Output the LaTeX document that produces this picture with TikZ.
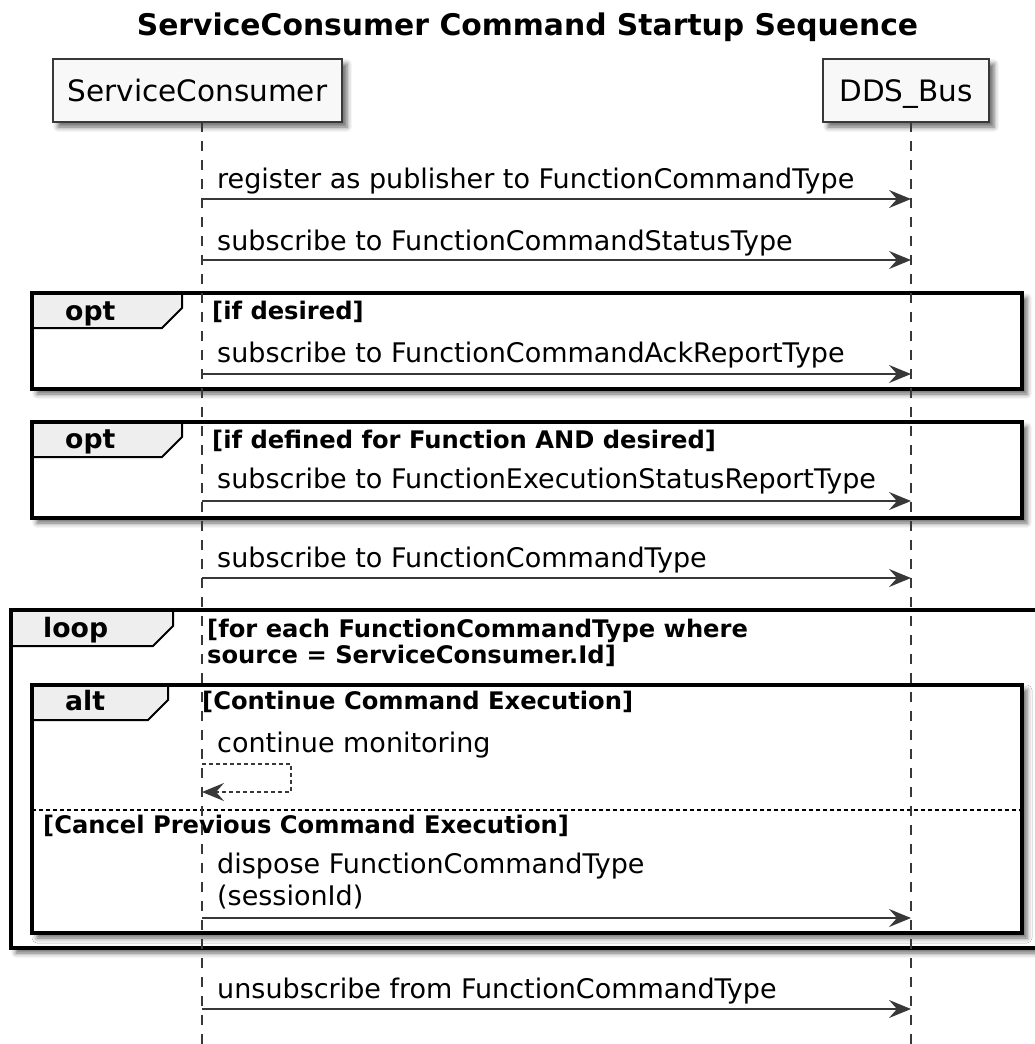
\documentclass[tikz,border=0pt]{standalone}
\usepackage{fontspec}
\setmainfont{DejaVu Sans}
\usetikzlibrary{arrows.meta,shadows.blur}

\definecolor{ink}{HTML}{383838}
\definecolor{partfill}{HTML}{F8F8F8}
\definecolor{tabfill}{HTML}{EEEEEE}

\newcommand\msgfont{\fontsize{27}{32}\selectfont}
\newcommand\partfont{\fontsize{29.5}{35}\selectfont}
\newcommand\titlefont{\bfseries\fontsize{29.8}{35}\selectfont}
\newcommand\tabfont{\bfseries\fontsize{26.7}{32}\selectfont}
\newcommand\guardfont{\bfseries\fontsize{24.2}{29}\selectfont}

% combined fragment: left, top, right, bottom, tab right, tab bottom
\newcommand\umlframe[6]{%
  \path[framebox] (#1,#2) rectangle (#3,#4);
  \filldraw[tabshape] (#1,#2) -- (#5,#2) -- (#5,#6-20) -- (#5-20,#6) -- (#1,#6) -- cycle;
  \draw[frameline] (#1,#2) rectangle (#3,#4);
}

\begin{document}
\begin{tikzpicture}[x=1pt,y=-1pt,
  softshadow/.style={blur shadow={shadow xshift=5pt, shadow yshift=-5pt,
      shadow blur radius=5pt, shadow opacity=60}},
  participant/.style={draw=ink, line width=2.5pt, fill=partfill, font=\partfont,
      inner sep=0pt, text height=21pt, text depth=0pt, minimum height=63pt, softshadow},
  lifeline/.style={draw=ink, line width=1.5pt, dash pattern=on 10pt off 9pt},
  msg/.style={draw=ink, line width=1.8pt,
      -{Stealth[length=22pt, width=18pt, inset=8pt]}},
  selfmsg/.style={msg, dash pattern=on 4pt off 3pt},
  msglabel/.style={anchor=base west, inner sep=0pt, font=\msgfont, text=black},
  framebox/.style={fill=white, softshadow},
  frameline/.style={draw=black, line width=3.2pt},
  tabshape/.style={draw=black, line width=2pt, fill=tabfill},
  tablabel/.style={anchor=base west, inner sep=0pt, font=\tabfont},
  guard/.style={anchor=base west, inner sep=0pt, font=\guardfont},
  separator/.style={draw=black, line width=1.5pt, dash pattern=on 4pt off 3pt}]

\useasboundingbox (0,0) rectangle (1035,1044);

% title and participants
\node[anchor=base, inner sep=0pt, font=\titlefont] (title) at (527.5,35)
  {ServiceConsumer Command Startup Sequence};
\node[participant, minimum width=289pt] (sc) at (197.5,90.5) {ServiceConsumer};
\node[participant, minimum width=166pt] (bus) at (906,90.5) {DDS\_Bus};

\coordinate (scl) at (202,122);
\coordinate (busl) at (911,122);
\coordinate (scend) at (202,1044);
\coordinate (busend) at (911,1044);

% combined fragments
\umlframe{32}{293}{1022}{389}{182}{328}
\umlframe{32}{422}{1022}{518}{182}{457}
\umlframe{11}{610}{1062}{948}{173}{646}
\umlframe{32}{685}{1022}{933}{168}{720}

\node[tablabel] (opt1) at (65,320) {opt};
\node[guard] (opt1g) at (212,319) {[if desired]};
\node[tablabel] (opt2) at (65,448) {opt};
\node[guard] (opt2g) at (212,448) {[if defined for Function AND desired]};
\node[tablabel] (loop) at (43,637) {loop};
\node[guard] (loopg1) at (207,637) {[for each FunctionCommandType where};
\node[guard] (loopg2) at (207,663) {source = ServiceConsumer.Id]};
\node[tablabel] (alt) at (65,710) {alt};
\node[guard] (altg1) at (202,709) {[Continue Command Execution]};
\draw[separator] (32,810) -- (1022,810);
\node[guard] (altg2) at (43,833) {[Cancel Previous Command Execution]};

% lifelines
\draw[lifeline] (scl) -- (scend);
\draw[lifeline] (busl) -- (busend);

% messages
\node[msglabel] (m1) at (217,188) {register as publisher to FunctionCommandType};
\draw[msg] (scl |- 0,199) -- (busl |- 0,199);

\node[msglabel] (m2) at (217,250) {subscribe to FunctionCommandStatusType};
\draw[msg] (scl |- 0,260) -- (busl |- 0,260);

\node[msglabel] (m3) at (217,362) {subscribe to FunctionCommandAckReportType};
\draw[msg] (scl |- 0,374) -- (busl |- 0,374);

\node[msglabel] (m4) at (217,488) {subscribe to FunctionExecutionStatusReportType};
\draw[msg] (scl |- 0,501) -- (busl |- 0,501);

\node[msglabel] (m5) at (217,567) {subscribe to FunctionCommandType};
\draw[msg] (scl |- 0,578) -- (busl |- 0,578);

\node[msglabel] (m6) at (217,752) {continue monitoring};
\draw[selfmsg] (scl |- 0,764) -- ++(89,0) -- ++(0,28) -- (scl |- 0,792);

\node[msglabel] (m7a) at (217,873) {dispose FunctionCommandType};
\node[msglabel] (m7b) at (217,905) {(sessionId)};
\draw[msg] (scl |- 0,918) -- (busl |- 0,918);

\node[msglabel] (m8) at (217,998) {unsubscribe from FunctionCommandType};
\draw[msg] (scl |- 0,1009) -- (busl |- 0,1009);

\end{tikzpicture}
\end{document}
